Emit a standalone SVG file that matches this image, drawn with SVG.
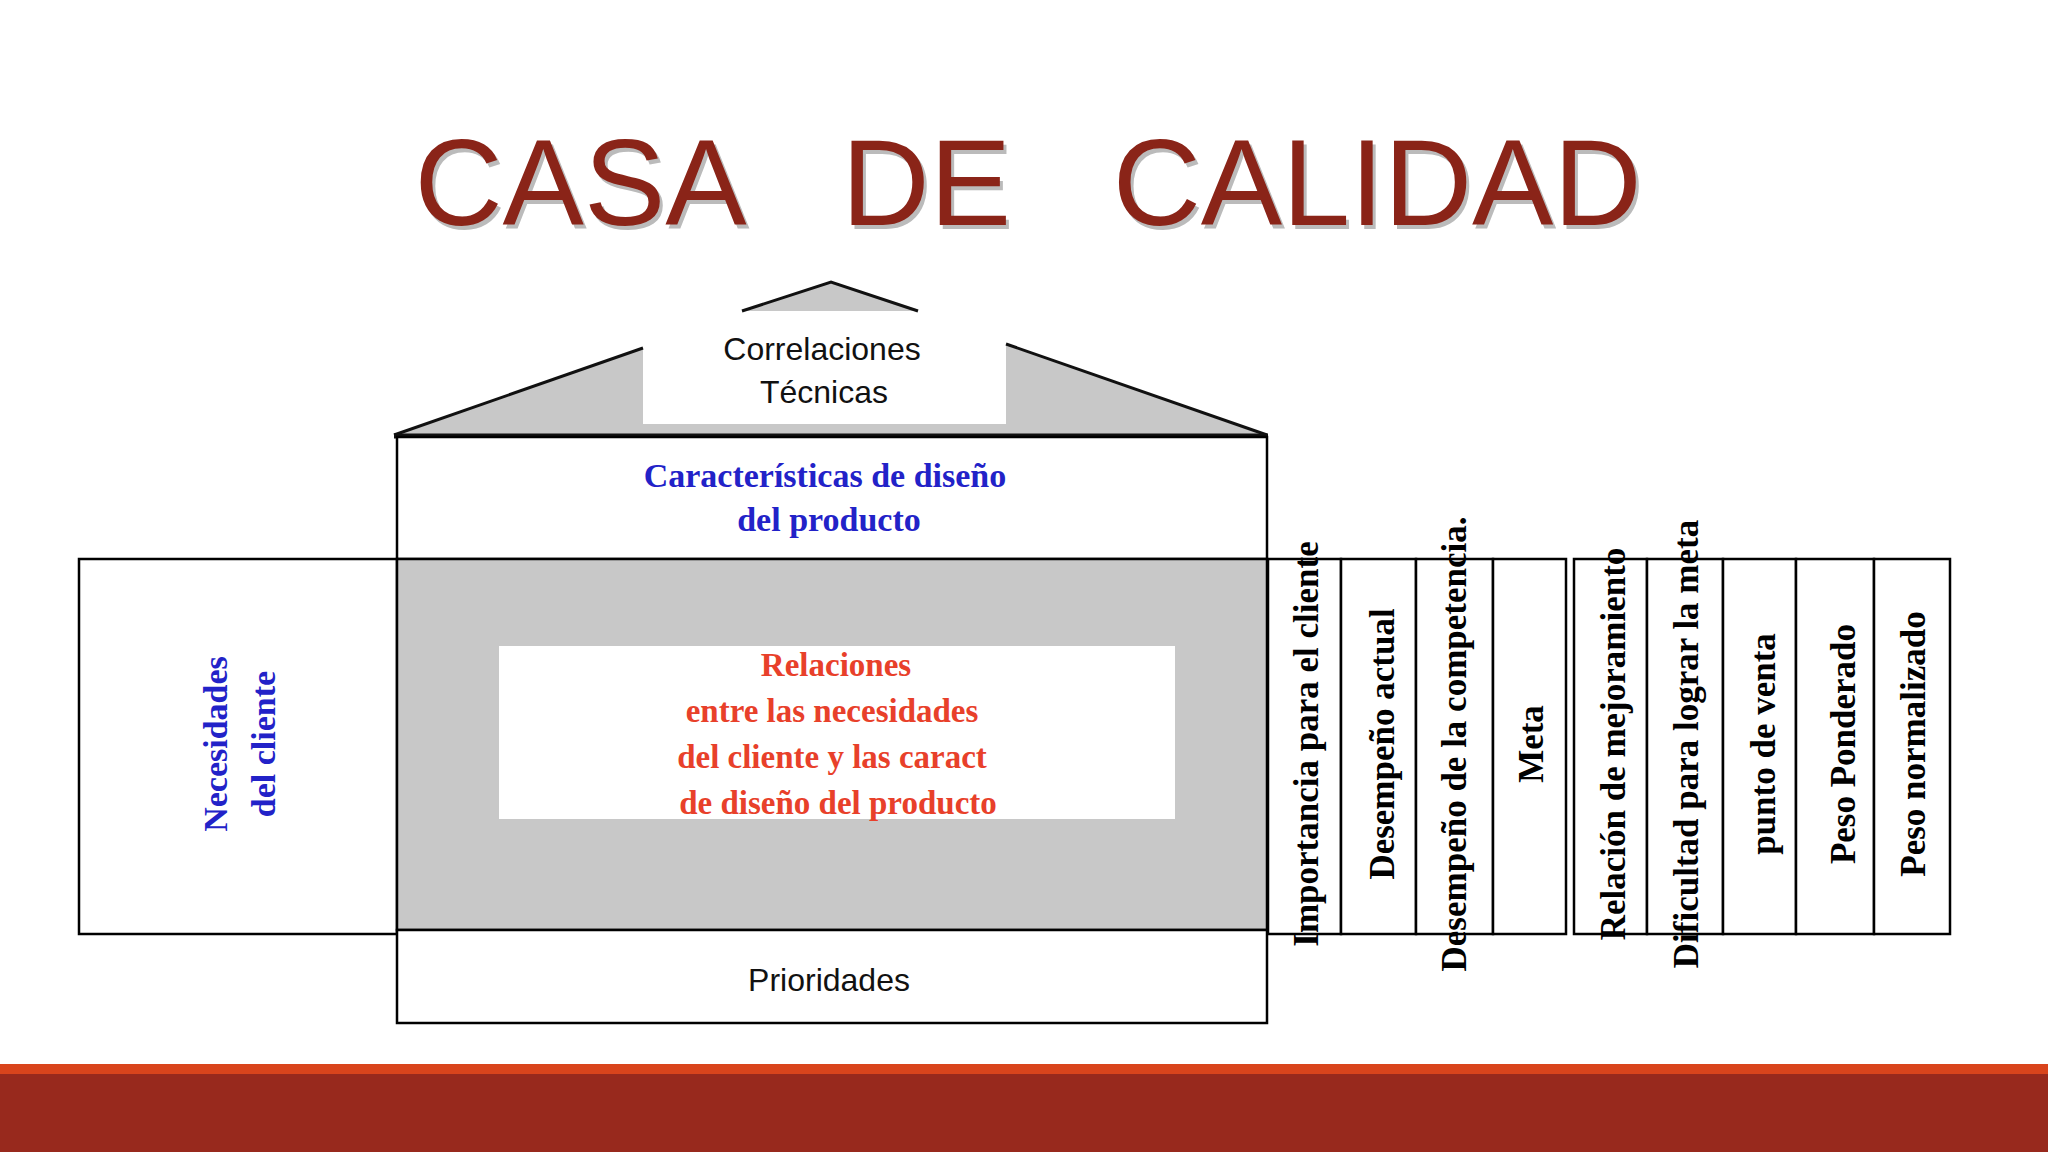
<svg xmlns="http://www.w3.org/2000/svg" width="2048" height="1152" viewBox="0 0 2048 1152">
<style>
.box{fill:#fff;stroke:#000;stroke-width:2.5}
.col{font-family:"Liberation Serif",serif;font-weight:bold;font-size:35px;fill:#000;text-anchor:middle}
.blue{font-family:"Liberation Serif",serif;font-weight:bold;font-size:34px;fill:#2222c8;text-anchor:middle}
.red{font-family:"Liberation Serif",serif;font-weight:bold;font-size:33px;fill:#e8402a;text-anchor:middle}
.sans{font-family:"Liberation Sans",sans-serif;font-size:32px;fill:#111;text-anchor:middle}
.ln{stroke:#111;stroke-width:3;fill:none}
</style>
<rect width="2048" height="1152" fill="#fff"/>
<g id="title">
<text x="1031" y="229" font-family="Liberation Sans,sans-serif" font-size="122" fill="#bbb" text-anchor="middle" xml:space="preserve">CASA   DE   CALIDAD</text>
<text x="1028" y="225" font-family="Liberation Sans,sans-serif" font-size="122" fill="#8a2418" text-anchor="middle" xml:space="preserve">CASA   DE   CALIDAD</text>
</g>
<g id="roof">
<polygon points="394,435 643,348 643,311 742,311 831,282 918,311 1006,311 1006,344 1267,435" fill="#c8c8c8"/>
<rect x="643" y="311" width="363" height="113" fill="#fff"/>
<polyline class="ln" points="394,435 643,348"/>
<polyline class="ln" points="742,311 831,282 918,311"/>
<polyline class="ln" points="1006,344 1267,435"/>
<line x1="394" y1="436" x2="1268" y2="436" stroke="#111" stroke-width="5"/>
<text class="sans" x="822" y="360">Correlaciones</text>
<text class="sans" x="824" y="403">Técnicas</text>
</g>
<g id="caracteristicas">
<rect class="box" x="397" y="437" width="870" height="122"/>
<text class="blue" x="825" y="487">Características de diseño</text>
<text class="blue" x="829" y="531">del producto</text>
</g>
<g id="necesidades">
<rect class="box" x="79" y="559" width="318" height="375"/>
<text class="blue" transform="translate(227,744) rotate(-90)">Necesidades</text>
<text class="blue" transform="translate(275,744) rotate(-90)">del cliente</text>
</g>
<g id="relaciones">
<rect x="397" y="559" width="870" height="371" fill="#c8c8c8" stroke="#000" stroke-width="2.5"/>
<rect x="499" y="646" width="676" height="173" fill="#fff"/>
<text class="red" x="836" y="676">Relaciones</text>
<text class="red" x="832" y="722">entre las necesidades</text>
<text class="red" x="832" y="768">del cliente y las caract</text>
<text class="red" x="838" y="814">de diseño del producto</text>
</g>
<g id="prioridades">
<rect class="box" x="397" y="930" width="870" height="93"/>
<text class="sans" x="829" y="991">Prioridades</text>
</g>
<g id="columnas">
<rect class="box" x="1268" y="559" width="73" height="375"/>
<rect class="box" x="1341" y="559" width="75" height="375"/>
<rect class="box" x="1416" y="559" width="77" height="375"/>
<rect class="box" x="1493" y="559" width="73" height="375"/>
<rect class="box" x="1574" y="559" width="73" height="375"/>
<rect class="box" x="1647" y="559" width="76" height="375"/>
<rect class="box" x="1723" y="559" width="73" height="375"/>
<rect class="box" x="1796" y="559" width="78" height="375"/>
<rect class="box" x="1874" y="559" width="76" height="375"/>
<text class="col" transform="translate(1318,744) rotate(-90)">Importancia para el cliente</text>
<text class="col" transform="translate(1394,744) rotate(-90)">Desempeño actual</text>
<text class="col" transform="translate(1466,744) rotate(-90)">Desempeño de la competencia.</text>
<text class="col" transform="translate(1543,744) rotate(-90)">Meta</text>
<text class="col" transform="translate(1625,744) rotate(-90)">Relación de mejoramiento</text>
<text class="col" transform="translate(1698,744) rotate(-90)">Dificultad para lograr la meta</text>
<text class="col" transform="translate(1775,744) rotate(-90)">punto de venta</text>
<text class="col" transform="translate(1855,744) rotate(-90)">Peso Ponderado</text>
<text class="col" transform="translate(1925,744) rotate(-90)">Peso normalizado</text>
</g>
<rect x="0" y="1064" width="2048" height="10" fill="#d9441c"/>
<rect x="0" y="1074" width="2048" height="78" fill="#98291d"/>
</svg>
